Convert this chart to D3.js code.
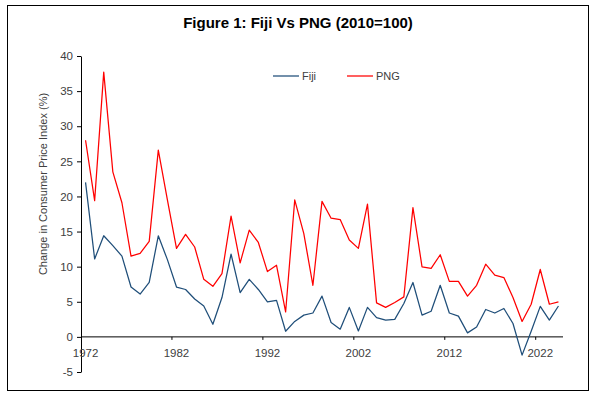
<!DOCTYPE html>
<html>
<head>
<meta charset="utf-8">
<script src="https://cdn.jsdelivr.net/npm/d3@7"></script>
<style>
    body { margin: 0; background: #fff; }
    svg { display: block; }
</style>
</head>
<body>
<div id="chart"></div>
<script>
// years on the category axis
var years = d3.range(1972, 2025);

// annual change in CPI (%)
var fiji = [22.0, 11.1, 14.4, 13.0, 11.5, 7.1, 6.1, 7.75, 14.4, 11.0,
    7.1, 6.75, 5.4, 4.4, 1.8, 5.6, 11.8, 6.3, 8.2, 6.75,
    5.0, 5.2, 0.8, 2.2, 3.1, 3.4, 5.8, 2.05, 1.1, 4.2,
    0.85, 4.2, 2.75, 2.4, 2.5, 4.75, 7.75, 3.1, 3.65, 7.35,
    3.4, 2.95, 0.57, 1.4, 3.9, 3.4, 4.05, 1.9, -2.6, 0.8,
    4.35, 2.4, 4.4];

var png = [28.0, 19.4, 37.7, 23.5, 19.1, 11.5, 11.9, 13.6, 26.6, 19.5,
    12.6, 14.6, 12.8, 8.2, 7.2, 9.0, 17.2, 10.55, 15.2, 13.45,
    9.3, 10.2, 3.55, 19.5, 14.7, 7.35, 19.3, 16.9, 16.7, 13.8,
    12.6, 18.9, 4.85, 4.2, 4.9, 5.7, 18.4, 9.97, 9.75, 11.7,
    7.9, 7.9, 5.8, 7.35, 10.35, 8.8, 8.45, 5.6, 2.2, 4.65,
    9.6, 4.65, 5.0];

var yTicks = [-5, 0, 5, 10, 15, 20, 25, 30, 35, 40];
var xLabelYears = [1972, 1982, 1992, 2002, 2012, 2022];

var seriesNames = ["Fiji", "PNG"];
var seriesColors = ["#1f4e79", "#ff0000"];

var width = 599, height = 398;
var plot = { left: 81, right: 563, top: 56, bottom: 372 };
var labelFont = "'Liberation Sans', Arial, sans-serif";

var svg = d3.select("#chart").append("svg")
    .attr("width", width)
    .attr("height", height);

// outer frame
svg.append("rect")
    .attr("x", 7.5).attr("y", 5.5)
    .attr("width", 581).attr("height", 385)
    .attr("fill", "#fff")
    .attr("stroke", "#000")
    .attr("stroke-width", 1);

svg.append("text")
    .attr("x", 298).attr("y", 28)
    .attr("text-anchor", "middle")
    .style("font-family", "'Liberation Sans Narrow', 'Arial Narrow', sans-serif")
    .style("font-weight", "bold")
    .style("font-size", "15px")
    .style("fill", "#000")
    .text("Figure 1: Fiji Vs PNG (2010=100)");

var x = d3.scaleBand()
    .domain(years)
    .range([plot.left, plot.right])
    .paddingInner(0).paddingOuter(0);

var y = d3.scaleLinear()
    .domain([-5, 40])
    .range([plot.bottom, plot.top]);

var cx = d => x(d) + x.bandwidth() / 2;

// y axis
var yAxis = svg.append("g")
    .attr("transform", "translate(" + plot.left + ",0)")
    .call(d3.axisLeft(y).tickValues(yTicks).tickFormat(d => String(d))
        .tickSize(4).tickPadding(4).tickSizeOuter(0));
yAxis.select(".domain").attr("stroke", "#000");
yAxis.selectAll(".tick line").attr("stroke", "#000");
yAxis.selectAll("text")
    .style("font-family", labelFont)
    .style("font-size", "11.5px")
    .style("fill", "#404040");

// x axis along zero
var xAxisG = svg.append("g")
    .attr("transform", "translate(0," + y(0) + ")");
xAxisG.append("line")
    .attr("x1", plot.left).attr("x2", plot.right)
    .attr("stroke", "#000");
xAxisG.selectAll(".xtick")
    .data(xLabelYears.slice(1))
    .enter().append("line")
    .attr("x1", d => x(d)).attr("x2", d => x(d))
    .attr("y1", 0).attr("y2", 3)
    .attr("stroke", "#000");
xAxisG.selectAll(".xlabel")
    .data(xLabelYears)
    .enter().append("text")
    .attr("x", d => cx(d))
    .attr("y", 20)
    .attr("text-anchor", "middle")
    .style("font-family", labelFont)
    .style("font-size", "11.5px")
    .style("fill", "#404040")
    .text(d => d);

// axis title
svg.append("text")
    .attr("transform", "translate(47," + 184 + ") rotate(-90)")
    .attr("text-anchor", "middle")
    .style("font-family", labelFont)
    .style("font-size", "11px")
    .style("fill", "#404040")
    .text("Change in Consumer Price Index (%)");

var line = d3.line()
    .x((d, i) => cx(years[i]))
    .y(d => y(d));

[fiji, png].forEach((s, i) => {
    svg.append("path")
        .datum(s)
        .attr("fill", "none")
        .attr("stroke", seriesColors[i])
        .attr("stroke-width", 1.25)
        .attr("stroke-linejoin", "round")
        .attr("d", line);
});

// legend
var legendX = [273, 347];
seriesNames.forEach((name, i) => {
    svg.append("line")
        .attr("x1", legendX[i]).attr("x2", legendX[i] + 26)
        .attr("y1", 76).attr("y2", 76)
        .attr("stroke", seriesColors[i])
        .attr("stroke-width", 1.25);
    svg.append("text")
        .attr("x", legendX[i] + 29).attr("y", 80)
        .style("font-family", labelFont)
        .style("font-size", "11px")
        .style("fill", "#404040")
        .text(name);
});
</script>
</body>
</html>
